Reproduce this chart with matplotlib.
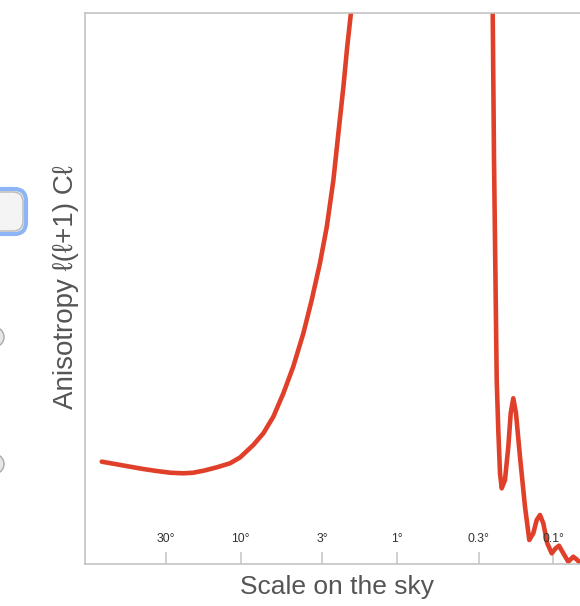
import matplotlib
matplotlib.use("Agg")
from matplotlib import pyplot as plt
from matplotlib.patches import FancyBboxPatch, Ellipse
from matplotlib.transforms import blended_transform_factory

# angular scale (degrees) and band power, arbitrary units (axis runs 0..100)
angle_deg = [77.5, 62.1, 51.1, 42.0, 34.5, 28.3, 23.3, 20.1, 17.3, 14.2, 11.7,
             10.1, 8.30, 7.16, 6.18, 5.33, 4.61, 3.97, 3.51, 3.11, 2.81, 2.55,
             2.37, 2.20, 2.08, 1.97, 1.85, 1.67, 1.38, 0.955, 0.614, 0.395,
             0.294, 0.261, 0.2436, 0.2390, 0.2297, 0.2244, 0.2188, 0.2134,
             0.2033, 0.1936, 0.1869, 0.1799, 0.1729, 0.1630, 0.1514, 0.1421,
             0.1340, 0.1274, 0.1214, 0.1156, 0.1090, 0.1021, 0.0963, 0.0917,
             0.0861, 0.0800, 0.0743, 0.0700, 0.0673]
power = [18.56, 18.08, 17.65, 17.23, 16.87, 16.56, 16.45, 16.56, 16.92, 17.54, 18.27,
         19.32, 21.59, 23.71, 26.72, 30.96, 35.79, 41.85, 47.89, 54.54, 61.18, 69.65,
         78.12, 86.58, 93.83, 99.89, 107.7, 120.4, 135.0, 147.6, 149.5, 138.6,
         122.3, 109.6, 99.9, 73.3, 33.38, 24.31, 16.45, 13.73,
         15.24, 21.28, 27.34, 30.06, 27.34, 19.46, 10.39, 4.35,
         5.57, 7.98, 8.89, 7.38, 3.75, 1.94, 2.85, 3.32,
         1.94, 0.42, 1.32, 0.73, 0.13]

tick_angles = [30, 10, 3, 1, 0.3, 0.1]
tick_labels = ["30°", "10°", "3°", "1°", "0.3°", "0.1°"]

plt.rcParams["font.family"] = ["Liberation Sans", "DejaVu Sans"]

fig = plt.figure(figsize=(5.8, 6.06), dpi=100)
W, H = 580.0, 606.0

# widget controls sitting to the left of the plot
fig.patches.append(FancyBboxPatch((-20 / W, 1 - 234 / H), 46 / W, 45 / H,
                                  boxstyle="round,pad=0,rounding_size=0.02",
                                  transform=fig.transFigure, facecolor="#f4f4f4",
                                  edgecolor="#8db4f5", linewidth=3))
fig.patches.append(FancyBboxPatch((-20 / W, 1 - 231 / H), 43 / W, 39 / H,
                                  boxstyle="round,pad=0,rounding_size=0.017",
                                  transform=fig.transFigure, facecolor="none",
                                  edgecolor="#b8b8b8", linewidth=1))
for cy in (337, 464):
    fig.patches.append(Ellipse((-6 / W, 1 - cy / H), 20 / W, 20 / H,
                               transform=fig.transFigure, facecolor="#e6e6e6",
                               edgecolor="#a8a8a8", linewidth=1))

ax = fig.add_axes([85 / W, 1 - 564 / H, 1 - 85 / W, 551.3 / H])
ax.plot(angle_deg, power, color="#e0402a", linewidth=3.3,
        solid_joinstyle="round", solid_capstyle="round")

ax.set_xscale("log")
ax.set_xlim(99.2, 0.0673)
ax.set_ylim(0, 100)

for side in ("left", "top", "bottom"):
    ax.spines[side].set_color("#c4c4c4")
    ax.spines[side].set_linewidth(1.2)
ax.spines["right"].set_visible(False)

ax.set_yticks([])
ax.xaxis.set_minor_locator(matplotlib.ticker.NullLocator())
ax.set_xticks(tick_angles)
ax.set_xticklabels([])
ax.tick_params(axis="x", direction="in", length=9, width=1.2, color="#c8c8c8")

trans = blended_transform_factory(ax.transData, ax.transAxes)
for a, lab in zip(tick_angles, tick_labels):
    ax.text(a, 0.045, lab, transform=trans, ha="center", va="center",
            fontsize=8.8, color="#333333")

fig.text(337 / W, 1 - 587 / H, "Scale on the sky", ha="center", va="center",
         fontsize=19, color="#555555")
fig.text(66 / W, 1 - 287 / H, "Anisotropy \u2113(\u2113+1) C\u2113", ha="center",
         va="center", rotation=90, fontsize=20, color="#555555")

fig.savefig("out.png", dpi=100)
